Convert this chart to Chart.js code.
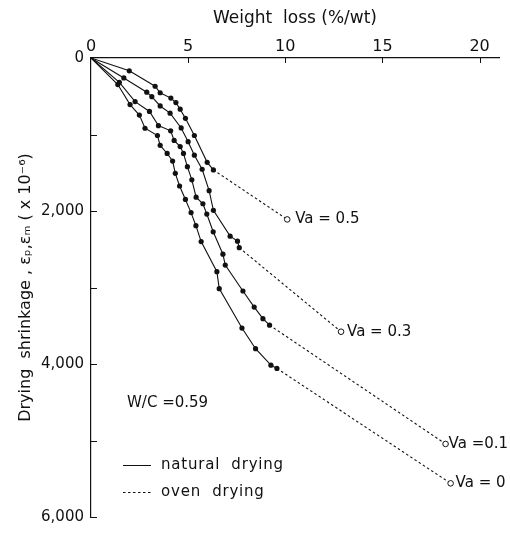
<!DOCTYPE html>
<html><head><meta charset="utf-8">
<script src="https://cdn.jsdelivr.net/npm/chart.js@4/dist/chart.umd.min.js"></script>
<style>html,body{margin:0;padding:0;background:#fff}#wrap{width:510px;height:533px}</style>
</head><body><div id="wrap"><canvas id="c" width="510" height="533"></canvas></div>
<script>
// ---- data (weight loss %/wt, drying shrinkage x10^-6) ----
const va05Loss   = [0, 1.97, 3.30, 3.56, 4.11, 4.37, 4.59, 4.86, 5.32, 5.98, 6.30];
const va05Shrink = [0, 167, 369, 454, 524, 583, 669, 789, 1013, 1364, 1463];
const va05Oven   = [10.1, 2110];

const va03Loss   = [0, 1.69, 2.87, 3.13, 3.56, 4.07, 4.64, 5.00, 5.32, 5.72, 6.08, 6.30, 7.16, 7.54, 7.63];
const va03Shrink = [0, 261, 447, 506, 627, 721, 914, 1094, 1270, 1454, 1734, 1991, 2329, 2394, 2480];
const va03Oven   = [12.87, 3578];

const va01Loss   = [0, 1.46, 2.27, 3.01, 3.47, 4.10, 4.28, 4.59, 4.76, 4.96, 5.19, 5.41, 5.76, 5.96, 6.29, 6.79, 6.91, 7.82, 8.40, 8.85, 9.19];
const va01Shrink = [0, 318, 570, 699, 884, 952, 1077, 1158, 1248, 1420, 1592, 1819, 1905, 2040, 2272, 2565, 2707, 3046, 3256, 3407, 3492];
const va01Oven   = [18.25, 5045];

const va0Loss    = [0, 1.38, 2.01, 2.49, 2.78, 3.42, 3.56, 3.92, 4.20, 4.34, 4.56, 4.86, 5.15, 5.40, 5.67, 6.48, 6.60, 7.77, 8.47, 9.26, 9.57];
const va0Shrink  = [0, 347, 609, 746, 918, 1013, 1142, 1248, 1347, 1508, 1673, 1849, 2021, 2192, 2400, 2793, 3015, 3530, 3800, 4015, 4058];
const va0Oven    = [18.51, 5560];

const seriesLabels = ['Va = 0.5', 'Va = 0.3', 'Va =0.1', 'Va = 0'];
const xTicks = [0, 5, 10, 15, 20];
const xTickLabels = ['0', '5', '10', '15', '20'];
const yTicks = [0, 2000, 4000, 6000];
const yTickLabels = ['0', '2,000', '4,000', '6,000'];
const yMinorTicks = [1000, 3000, 5000];
const xTitle = 'Weight  loss (%/wt)';
const yTitle = 'Drying  shrinkage , \u03b5\u209a,\u03b5\u2098 ( x 10\u207b\u2076)';
const noteText = 'W/C =0.59';
const legendTexts = ['natural  drying', 'oven  drying'];

// ---- build datasets ----
const FONT = 'DejaVu Sans';
const INK = '#111';
const labelGap = [8, 6, 3, 5];
const groups = [
  [va05Loss, va05Shrink, va05Oven],
  [va03Loss, va03Shrink, va03Oven],
  [va01Loss, va01Shrink, va01Oven],
  [va0Loss, va0Shrink, va0Oven]
];
const datasets = [];
groups.forEach(([lx, sy, oven]) => {
  const n = lx.length - 1;
  datasets.push({
    data: [{x: lx[n], y: sy[n]}, {x: oven[0], y: oven[1]}],
    showLine: true, borderColor: INK, borderWidth: 1.1, borderDash: [2.5, 2.5],
    pointRadius: [0, 2.8], pointBackgroundColor: '#fff', pointBorderColor: INK, pointBorderWidth: 1
  });
});
groups.forEach(([lx, sy]) => {
  datasets.push({
    data: lx.map((x, i) => ({x, y: sy[i]})),
    showLine: true, borderColor: INK, borderWidth: 1.1,
    pointRadius: lx.map((x, i) => i === 0 ? 0 : 2.6),
    pointBackgroundColor: INK, pointBorderColor: INK, pointBorderWidth: 0
  });
});

const decor = {
  id: 'decor',
  afterDraw(chart) {
    const ctx = chart.ctx, xs = chart.scales.x, ys = chart.scales.y, a = chart.chartArea;
    ctx.save();
    ctx.strokeStyle = INK; ctx.lineWidth = 1;
    xTicks.slice(1).forEach(v => {
      const px = Math.round(xs.getPixelForValue(v)) + 0.5;
      ctx.beginPath(); ctx.moveTo(px, a.top); ctx.lineTo(px, a.top + 5); ctx.stroke();
    });
    yTicks.slice(1).concat(yMinorTicks).forEach(v => {
      const py = Math.round(ys.getPixelForValue(v)) + 0.5;
      ctx.beginPath(); ctx.moveTo(a.left, py); ctx.lineTo(a.left + 6, py); ctx.stroke();
    });
    // series labels
    ctx.fillStyle = INK; ctx.font = '15px "' + FONT + '"';
    ctx.textBaseline = 'middle'; ctx.textAlign = 'left';
    groups.forEach(([, , oven], i) => {
      const px = xs.getPixelForValue(oven[0]), py = ys.getPixelForValue(oven[1]);
      ctx.fillText(seriesLabels[i], px + labelGap[i], py);
    });
    // note and legend
    ctx.fillText(noteText, 127, 403);
    ctx.beginPath(); ctx.moveTo(123, 465.5); ctx.lineTo(151, 465.5); ctx.stroke();
    ctx.setLineDash([2.5, 2.5]);
    ctx.beginPath(); ctx.moveTo(123, 492.5); ctx.lineTo(151, 492.5); ctx.stroke();
    ctx.setLineDash([]);
    ctx.letterSpacing = '0.8px';
    ctx.fillText(legendTexts[0], 161, 465);
    ctx.fillText(legendTexts[1], 161, 492);
    ctx.restore();
  }
};

new Chart(document.getElementById('c'), {
  type: 'scatter',
  data: { datasets },
  options: {
    responsive: false, animation: false,
    layout: { padding: { left: 0, top: 0, right: 11, bottom: 9 } },
    plugins: { legend: { display: false }, tooltip: { enabled: false } },
    scales: {
      x: {
        type: 'linear', position: 'top', min: 0, max: 21,
        afterBuildTicks: s => { s.ticks = xTicks.map(v => ({value: v})); },
        afterFit: s => { s.height = 58; },
        grid: { display: false, drawTicks: false },
        border: { display: true, color: INK, width: 1.2 },
        ticks: { color: INK, font: { family: FONT, size: 16 }, padding: 2, maxRotation: 0,
                 callback: v => xTickLabels[xTicks.indexOf(v)] ?? '' },
        title: { display: true, text: xTitle, color: INK, font: { family: FONT, size: 17 }, padding: { top: 8, bottom: 0 } }
      },
      y: {
        type: 'linear', reverse: true, min: 0, max: 6000,
        afterBuildTicks: s => { s.ticks = yTicks.map(v => ({value: v})); },
        afterFit: s => { s.width = 91; },
        grid: { display: false, drawTicks: false },
        border: { display: true, color: INK, width: 1.2 },
        ticks: { color: INK, font: { family: FONT, size: 15 }, padding: 7,
                 callback: v => yTickLabels[yTicks.indexOf(v)] ?? '' },
        title: { display: true, text: yTitle, color: INK, font: { family: FONT, size: 16 }, padding: { top: 16, bottom: 0 } }
      }
    }
  },
  plugins: [decor]
});
</script></body></html>
